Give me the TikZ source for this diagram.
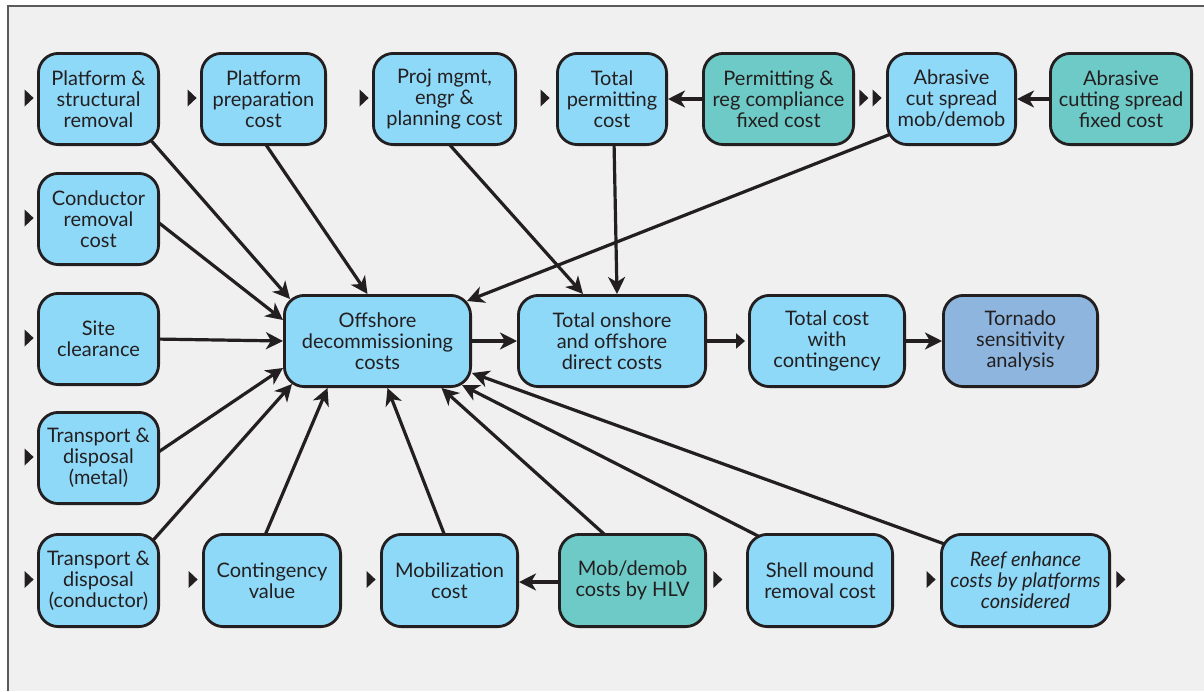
\documentclass[tikz,border=0pt]{standalone}
\usepackage{fontspec}
\setmainfont{Lato}
\usetikzlibrary{arrows.meta,calc}
\definecolor{lblue}{HTML}{8FD9F8}
\definecolor{teal2}{HTML}{6ECAC7}
\definecolor{torn}{HTML}{8DB5DD}
\definecolor{ink}{HTML}{231F20}
\definecolor{bgc}{HTML}{F0F0F0}
\definecolor{framec}{HTML}{5A5A5A}
\pgfdeclarelayer{bglayer}
\pgfdeclarelayer{connlayer}
\pgfsetlayers{bglayer,connlayer,main}
\begin{document}
\begin{tikzpicture}[x=1pt,y=-1pt,
  box/.style={draw=ink, line width=2.8pt, rounded corners=20pt, fill=lblue,
    align=center, inner sep=0pt, text=ink, font=\fontsize{20}{21}\selectfont},
  tealbox/.style={box, fill=teal2},
  tornbox/.style={box, fill=torn},
  sz/.style n args={2}{minimum width=#1, minimum height=#2},
  conn/.style={draw=ink, line width=3.2pt, -{Stealth[length=17pt,width=17pt,inset=5pt]}},
  smallconn/.style={draw=ink, line width=3.2pt, -{Triangle[length=9pt,width=15pt]}},
  inmark/.pic={\fill[ink] (0,0) -- (-9,-8.5) -- (-9,8.5) -- cycle;},
  outmark/.pic={\fill[ink] (0,0) -- (0,-8.5) -- (9,0) -- (0,8.5) -- cycle;}
]
\useasboundingbox (0,0) rectangle (1204,691);
\begin{pgfonlayer}{bglayer}
  \fill[white] (0,0) rectangle (1204,691);
  \fill[bgc] (8,6) rectangle (1204,691);
  \draw[framec, line width=2pt] (8,691) -- (8,6) -- (1204,6);
\end{pgfonlayer}

% top row
\node[box, sz={120.2}{91.2}] (A1) at (98.5,99) {Platform \&\\structural\\removal};
\node[box, sz={124.2}{91.2}] (A2) at (263.5,99) {Platform\\preparation\\cost};
\node[box, sz={142.2}{91.2}] (A3) at (444.5,99) {Proj mgmt,\\engr \&\\planning cost};
\node[box, sz={109.2}{91.2}] (A4) at (612,99) {Total\\permitting\\cost};
\node[tealbox, sz={150.2}{91.2}] (A5) at (778.5,99) {Permitting \&\\reg compliance\\fixed cost};
\node[box, sz={128.2}{91.2}] (A6) at (951.5,99) {Abrasive\\cut spread\\mob/demob};
\node[tealbox, sz={141.2}{91.2}] (A7) at (1121,99) {Abrasive\\cutting spread\\fixed cost};

% left column
\node[box, sz={120.2}{91.2}] (B1) at (98.5,219) {Conductor\\removal\\cost};
\node[box, sz={120.2}{91.2}] (B2) at (98.5,339) {Site\\clearance};
\node[box, sz={120.2}{91.2}] (B3) at (98.5,458) {Transport \&\\disposal\\(metal)};
\node[box, sz={120.2}{92.2}] (B4) at (98.5,580.5) {Transport \&\\disposal\\(conductor)};

% middle row
\node[box, sz={186.2}{91.2}] (Off) at (377.5,341) {Offshore\\decommissioning\\costs};
\node[box, sz={187.2}{91.2}] (Tot) at (612,341) {Total onshore\\and offshore\\direct costs};
\node[box, sz={155.2}{91.2}] (TC) at (827,341) {Total cost\\with\\contingency};
\node[tornbox, sz={154.2}{91.2}] (Tor) at (1020.5,341) {Tornado\\sensitivity\\analysis};

% bottom row
\node[box, sz={137.2}{92.2}] (C1) at (272,580.5) {Contingency\\value};
\node[box, sz={136.2}{92.2}] (C2) at (449.5,580.5) {Mobilization\\cost};
\node[tealbox, sz={146.2}{92.2}] (C3) at (632.5,580.5) {Mob/demob\\costs by HLV};
\node[box, sz={145.2}{92.2}] (C4) at (820,580.5) {Shell mound\\removal cost};
\node[box, sz={168.2}{92.2}] (C5) at (1025.5,580.5) {\itshape Reef enhance\\\itshape costs by platforms\\\itshape considered};

% markers
\pic at ($(A1.west)+(-3.4,-1)$) {inmark};
\pic at ($(A2.west)+(-3.4,-1)$) {inmark};
\pic at ($(A3.west)+(-3.4,-1)$) {inmark};
\pic at ($(A4.west)+(-6.4,-1)$) {inmark};
\pic at ($(A5.east)+(4.4,-1)$) {outmark};
\pic at ($(A6.west)+(-4.4,-1)$) {inmark};
\pic at ($(B1.west)+(-3.4,-1)$) {inmark};
\pic at ($(B2.west)+(-3.4,-1)$) {inmark};
\pic at ($(B3.west)+(-3.4,-1)$) {inmark};
\pic at ($(B4.west)+(-3.4,-1)$) {inmark};
\pic at ($(C1.west)+(-4.4,-1)$) {inmark};
\pic at ($(C2.west)+(-4.4,-1)$) {inmark};
\pic at ($(C3.east)+(6.4,-1)$) {outmark};
\pic at ($(C5.west)+(-4.4,-1)$) {inmark};
\pic at ($(C5.east)+(5.4,-1)$) {outmark};

% connectors
\begin{pgfonlayer}{connlayer}
  \draw[conn] ($(A1.south east)+(-12,-9)$) -- ($(Off.north west)+(7,5)$);
  \draw[conn] ($(A2.south)+(-1.5,-7)$) -- ($(Off.north)+(-10,0)$);
  \draw[conn] ($(A3.south)+(0,-7)$) -- ($(Tot.north)+(-29,0)$);
  \draw[conn] ($(A4.south)+(2,-5)$) -- ($(Tot.north)+(5,0)$);
  \draw[conn] ($(A6.south west)+(10,-14)$) -- ($(Off.north east)+(-5,7)$);
  \draw[conn] ($(B1.east)+(-6,0)$) -- ($(Off.west)+(0,-21)$);
  \draw[conn] ($(B2.east)+(-6,0)$) -- (Off.west);
  \draw[conn] ($(B3.east)+(-6,-3)$) -- ($(Off.west)+(0,27)$);
  \draw[conn] ($(B4.north east)+(-12,13)$) -- ($(Off.south west)+(9,-4)$);
  \draw[conn] ($(C1.north)+(-9,7)$) -- ($(Off.south)+(-50,0)$);
  \draw[conn] ($(C2.north)+(-3,7)$) -- ($(Off.south)+(10,0)$);
  \draw[conn] ($(C3.north)+(-24,5)$) -- ($(Off.south)+(64,0)$);
  \draw[conn] ($(C4.north west)+(18,6)$) -- ($(Off.south east)+(-10,-3)$);
  \draw[conn] ($(C5.north west)+(10,13)$) -- ($(Off.east)+(0,32)$);
  \draw[conn] (Off.center) -- (Tot.west);
  \draw[conn] (A5.center) -- (A4.east);
  \draw[conn] (A7.center) -- (A6.east);
  \draw[conn] ($(C3.center)+(0,1.5)$) -- ($(C2.east)+(0,1.5)$);
  \draw[smallconn] (Tot.center) -- ($(TC.west)+(-3,0)$);
  \draw[conn] (TC.center) -- (Tor.west);
\end{pgfonlayer}
\end{tikzpicture}
\end{document}
